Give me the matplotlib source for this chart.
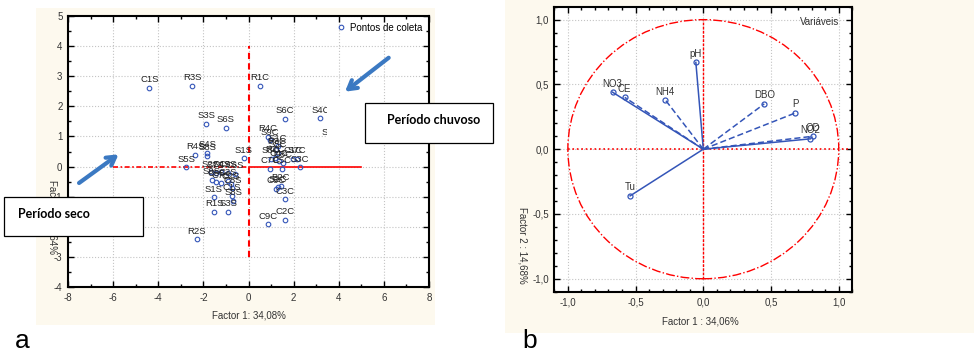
import numpy as np
import matplotlib
matplotlib.use("Agg")
import matplotlib.pyplot as plt
from matplotlib.patches import Rectangle, Circle
from matplotlib.ticker import MultipleLocator, FuncFormatter

plt.rcParams['font.family'] = ['Liberation Sans', 'DejaVu Sans']
plt.rcParams['axes.unicode_minus'] = False

# painel a: escores dos pontos de coleta (periodo seco)
pontos_seco = ["C1S", "R3S", "S3S", "S6S", "R4S", "S4S", "S8S", "S5S", "S1S",
               "S2S", "S7S", "C4S", "C9S", "C6S", "S9S", "C5S", "C7S", "C3S",
               "C2S", "C8S", "S1S", "C1S", "S8S", "R1S", "S3S", "R2S"]
f1_seco = [-4.39, -2.50, -1.87, -1.01, -2.36, -1.82, -1.82, -2.76, -0.21,
           -1.66, -1.45, -1.20, -0.93, -0.62, -1.62, -1.42, -1.21, -0.93,
           -0.77, -0.72, -1.55, -0.73, -0.68, -1.51, -0.90, -2.28]
f2_seco = [2.62, 2.69, 1.42, 1.29, 0.40, 0.46, 0.36, -0.02, 0.28,
           -0.18, -0.23, -0.19, -0.21, -0.24, -0.43, -0.50, -0.55, -0.47,
           -0.58, -0.72, -1.02, -0.97, -1.14, -1.50, -1.50, -2.41]

# periodo chuvoso
pontos_chuva = ["R1C", "S6C", "S4C", "S2C", "R4C", "S9C", "S1C", "R3C", "S5C",
                "R2C", "S8C", "C1C", "S7C", "C4C", "C8C", "C7C", "C5C", "S3C",
                "B2C", "S2C", "C6C", "C3C", "C9C", "C2C"]
f1_chuva = [0.52, 1.61, 3.19, 3.64, 0.86, 0.96, 1.30, 1.23, 1.30,
            1.16, 1.01, 1.97, 2.16, 1.35, 1.52, 0.96, 1.50, 2.27,
            1.42, 1.30, 1.20, 1.61, 0.86, 1.61]
f2_chuva = [2.69, 1.59, 1.60, 0.86, 0.99, 0.88, 0.68, 0.57, 0.46,
            0.29, 0.26, 0.26, 0.26, 0.18, 0.12, -0.08, -0.08, -0.02,
            -0.63, -0.68, -0.74, -1.08, -1.91, -1.77]

# painel b: cargas das variaveis
variaveis = ["pH", "NO3", "CE", "NH4", "DBO", "P", "NO2", "OD", "Tu"]
carga_f1 = [-0.055, -0.67, -0.58, -0.28, 0.45, 0.68, 0.79, 0.81, -0.54]
carga_f2 = [0.67, 0.44, 0.40, 0.38, 0.35, 0.28, 0.08, 0.10, -0.36]
tracejadas = {"CE", "NH4", "DBO", "P", "OD"}

W, H = 974, 354
creme = '#fdf9ee'
azul = '#3455b8'


def caixa(x0, y0, x1, y1):
    # pixels (origem no topo) -> fracao da figura
    return [x0 / W, 1 - y1 / H, (x1 - x0) / W, (y1 - y0) / H]


fig = plt.figure(figsize=(W / 100, H / 100), dpi=100)
for r in [caixa(36, 8, 435, 325), caixa(505, 0, 974, 333)]:
    fig.add_artist(Rectangle((r[0], r[1]), r[2], r[3], transform=fig.transFigure,
                             facecolor=creme, edgecolor='none', zorder=-1))

# ---------- a ----------
ax1 = fig.add_axes(caixa(68, 16, 429, 287))
ax1.set_xlim(-8, 8)
ax1.set_ylim(-4, 5)
ax1.xaxis.set_major_locator(MultipleLocator(2))
ax1.xaxis.set_minor_locator(MultipleLocator(1))
ax1.yaxis.set_major_locator(MultipleLocator(1))
ax1.yaxis.set_minor_locator(MultipleLocator(0.5))

ax1.plot([0, 0], [-3, 4], color='red', ls=(0, (3, 2)), lw=1.5, zorder=2)
ax1.plot([-6, 0], [0, 0], color='red', ls=(0, (3, 1.5, 1, 1.5)), lw=1.2, zorder=2)
ax1.plot([0, 5], [0, 0], color='red', lw=1.2, zorder=2)

todos_x = f1_seco + f1_chuva
todos_y = f2_seco + f2_chuva
ax1.plot(todos_x, todos_y, 'o', mfc='none', mec=azul, ms=3.3, mew=0.8,
         label='Pontos de coleta', zorder=3)
for lab, x, y in zip(pontos_seco + pontos_chuva, todos_x, todos_y):
    ax1.annotate(lab, (x, y), xytext=(0, 2.5), textcoords='offset points',
                 ha='center', va='bottom', fontsize=6.8, color='#222222', zorder=4)

leg = ax1.legend(loc='upper right', frameon=False, fontsize=7, handlelength=0.8,
                 handletextpad=0.5, borderaxespad=0.3)

ax1.annotate('', xy=(-5.66, 0.46), xytext=(-7.61, -0.6),
             arrowprops=dict(arrowstyle='->,head_length=0.6,head_width=0.35',
                             color='#3b79c2', lw=3), zorder=5)
ax1.annotate('', xy=(4.18, 2.43), xytext=(6.31, 3.67),
             arrowprops=dict(arrowstyle='->,head_length=0.6,head_width=0.35',
                             color='#3b79c2', lw=3), zorder=5)

# ---------- b ----------
ax2 = fig.add_axes(caixa(554.3, 6.7, 852.3, 291.7))
ax2.set_xlim(-1.1, 1.1)
ax2.set_ylim(-1.1, 1.1)
ax2.xaxis.set_major_locator(MultipleLocator(0.5))
ax2.xaxis.set_minor_locator(MultipleLocator(0.1))
ax2.yaxis.set_major_locator(MultipleLocator(0.5))
ax2.yaxis.set_minor_locator(MultipleLocator(0.1))
virgula = FuncFormatter(lambda v, p: f"{v + 0.0:.1f}".replace('.', ','))
ax2.xaxis.set_major_formatter(virgula)
ax2.yaxis.set_major_formatter(virgula)

ax2.add_patch(Circle((0, 0), 1, fill=False, ec='red', ls='-.', lw=1.0, zorder=2))
ax2.plot([-1, 1.1], [0, 0], color='red', ls=':', lw=1.2, zorder=2)
ax2.plot([0, 0], [-1, 1], color='red', ls=(0, (2, 1)), lw=1.0, zorder=2)

for nome, x, y in zip(variaveis, carga_f1, carga_f2):
    ls = (0, (4, 2)) if nome in tracejadas else '-'
    ax2.plot([0, x], [0, y], color=azul, ls=ls, lw=1.1, zorder=3)
    ax2.plot(x, y, 'o', mfc='none', mec=azul, ms=3.6, mew=0.9, zorder=4)
    ax2.annotate(nome, (x, y), xytext=(0, 2.5), textcoords='offset points',
                 ha='center', va='bottom', fontsize=7, color='#333333')
ax2.text(0.955, 0.946, 'Variáveis', transform=ax2.transAxes, ha='right',
         va='center', fontsize=7, color='#333333')

for ax in (ax1, ax2):
    ax.grid(True, which='major', color='#c4c4c4', ls=':', lw=0.8, zorder=0)
    ax.set_axisbelow(True)
    ax.tick_params(which='both', direction='in', top=True, right=True,
                   labelsize=7, labelcolor='#333333', pad=4, width=1)
    ax.tick_params(which='major', length=4)
    ax.tick_params(which='minor', length=2)
    for s in ax.spines.values():
        s.set_linewidth(1.5)

# rotulos dos eixos
fig.text(249 / W, 1 - 315 / H, 'Factor 1: 34,08%', ha='center', va='center',
         fontsize=7, color='#333333')
fig.text(52 / W, 1 - 217 / H, 'Factor 2: 14,64%', rotation=270, ha='center',
         va='center', fontsize=7, color='#333333')
fig.text(700 / W, 1 - 321 / H, 'Factor 1 : 34,06%', ha='center', va='center',
         fontsize=7, color='#333333')
fig.text(523 / W, 1 - 245 / H, 'Factor 2 : 14,68%', rotation=270, ha='center',
         va='center', fontsize=7, color='#333333')

# caixas de texto
r = caixa(327, 97, 365, 150)
fig.add_artist(Rectangle((r[0], r[1]), r[2], r[3], transform=fig.transFigure,
                         facecolor='white', edgecolor='none', zorder=5))
for (x0, y0, x1, y1), dx, txt in [((365, 103, 493, 143), 22, 'Período chuvoso'),
                                  ((4, 197, 143, 236), 14, 'Período seco')]:
    r = caixa(x0, y0, x1, y1)
    fig.add_artist(Rectangle((r[0], r[1]), r[2], r[3], transform=fig.transFigure,
                             facecolor='white', edgecolor='black', lw=0.9, zorder=6))
    fig.text((x0 + dx) / W, 1 - (y0 + 17) / H, txt, ha='left', va='center',
             fontsize=9, fontweight='bold', family='Lato', zorder=7)

fig.text(15 / W, 1 - 348 / H, 'a', fontsize=19, va='baseline', ha='left')
fig.text(522 / W, 1 - 348 / H, 'b', fontsize=19, va='baseline', ha='left')

fig.savefig('out.png', dpi=100)
